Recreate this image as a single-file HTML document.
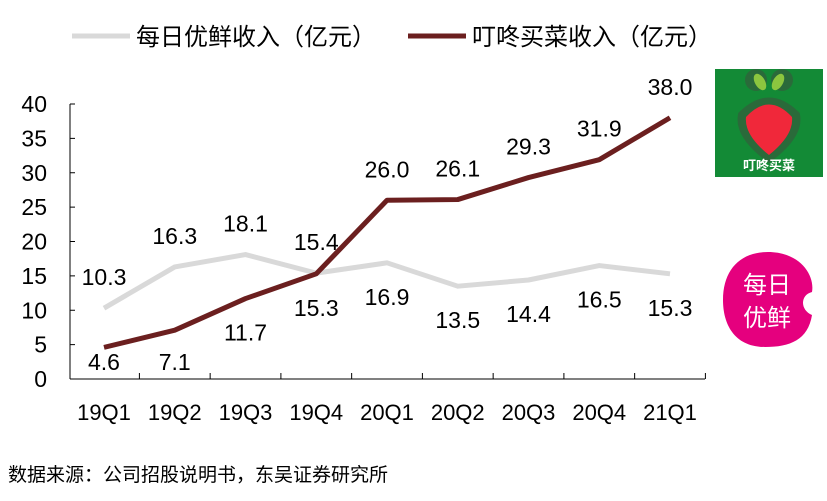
<!DOCTYPE html>
<html><head><meta charset="utf-8"><style>
body{margin:0;background:#fff;width:827px;height:496px;overflow:hidden;font-family:"Liberation Sans","Noto Sans CJK SC",sans-serif}
</style></head><body>
<svg width="827" height="496" font-family="Liberation Sans, Noto Sans CJK SC, sans-serif">
<g>
<line x1="72" y1="36" x2="130" y2="36" stroke="#d9d9d9" stroke-width="5"/>
<text x="136" y="45" font-size="24" fill="#000">每日优鲜收入（亿元）</text>
<line x1="408" y1="36" x2="466" y2="36" stroke="#6b1f1f" stroke-width="5"/>
<text x="472" y="45" font-size="24" fill="#000">叮咚买菜收入（亿元）</text>
</g>
<g id="axes"></g>
<g id="series"></g>
<g>
<rect x="715" y="69" width="108" height="108" fill="#138a36"/>
<circle cx="756" cy="80" r="11" fill="#2a6a3a"/><circle cx="782" cy="80" r="11" fill="#2a6a3a"/>
<path d="M742 115 Q769 88 796 115 Q800 135 769 158 Q738 135 742 115Z" fill="#2a6a3a" stroke="#2a6a3a" stroke-width="8"/>
<ellipse cx="760" cy="82" rx="5" ry="9" fill="#8cc63f" transform="rotate(-30 760 82)"/>
<ellipse cx="778" cy="82" rx="5" ry="9" fill="#8cc63f" transform="rotate(30 778 82)"/>
<path d="M746 117 Q769 92 792 117 Q794 135 769 155 Q744 135 746 117Z" fill="#f0283a"/>
<text x="769" y="170" font-size="13" fill="#fff" text-anchor="middle" font-weight="bold">叮咚买菜</text>
</g>
<g>
<path d="M768 252 C800 252 815 275 812 292 C800 295 800 310 812 315 C808 340 790 347 765 347 C735 347 723 325 723 300 C723 270 740 252 768 252Z" fill="#e5007e"/>
<text x="767" y="293" font-size="24" fill="#fff" text-anchor="middle">每日</text>
<text x="767" y="326" font-size="24" fill="#fff" text-anchor="middle">优鲜</text>
</g>
<text x="8" y="481" font-size="19" fill="#000">数据来源：公司招股说明书，东吴证券研究所</text>
</svg>
<script>
const categories=["19Q1","19Q2","19Q3","19Q4","20Q1","20Q2","20Q3","20Q4","21Q1"];
const missfresh=[10.3,16.3,18.1,15.4,16.9,13.5,14.4,16.5,15.3];
const dingdong=[4.6,7.1,11.7,15.3,26.0,26.1,29.3,31.9,38.0];
const missLabelPos=["above","above","above","above","below","below","below","below","below"];
const dingLabelPos=["below","below","below","below","above","above","above","above","above"];
const yTicks=[0,5,10,15,20,25,30,35,40];
const NS="http://www.w3.org/2000/svg";
const x=i=>104+i*70.75;
const y=v=>379-v*(275/40);
function mk(t,a,p){const e=document.createElementNS(NS,t);for(const k in a)e.setAttribute(k,a[k]);p.appendChild(e);return e;}
const ax=document.getElementById('axes'),se=document.getElementById('series');
const yl=mk('line',{x1:70,y1:y(40),x2:70,y2:379,stroke:'#000','stroke-width':1},ax);


const xl=mk('line',{x1:70,y1:379,x2:705,y2:379,stroke:'#000','stroke-width':1},ax);


yTicks.forEach(v=>{const t=mk('text',{x:47,y:y(v)+8,'font-size':23,'text-anchor':'end'},ax);t.textContent=v;


const tk=mk('line',{x1:70,y1:y(v),x2:75,y2:y(v),stroke:'#000','stroke-width':1},ax);

});
categories.forEach((c,i)=>{const t=mk('text',{x:x(i),y:420,'font-size':22,'text-anchor':'middle'},ax);t.textContent=c;


const tk=mk('line',{x1:x(i)+35.4,y1:373,x2:x(i)+35.4,y2:379,stroke:'#000','stroke-width':1},ax);

});
function series(vals,color,pos,name){
const p=mk('polyline',{points:vals.map((v,i)=>x(i)+','+y(v)).join(' '),fill:'none',stroke:color,'stroke-width':5,'stroke-linejoin':'round'},se);


vals.forEach((v,i)=>{const yy=pos[i]==='above'?y(v)-23:Math.min(y(v)+42,370);
const t=mk('text',{x:x(i),y:yy,'font-size':23,'text-anchor':'middle'},se);t.textContent=v.toFixed(1);

});
}
series(missfresh,'#d9d9d9',missLabelPos,'missfresh');
series(dingdong,'#6b1f1f',dingLabelPos,'dingdong');
</script>
</body></html>
